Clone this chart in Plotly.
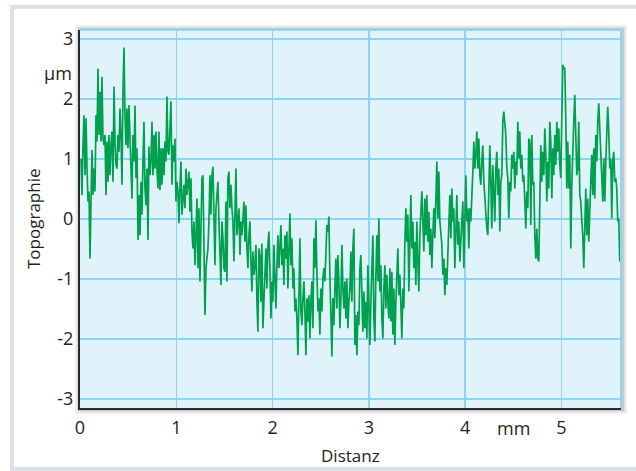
import numpy as np
import plotly.graph_objects as go

# ---------------- data ----------------
SAMPLE_SPACING_MM = 0.01038   # profilometer sampling interval
FIRST_SAMPLE_MM = 0.0104

height_seg1 = [1.00, 0.40, 1.23, 1.73, 0.73, 1.68, 0.84, 0.29, 0.46, -0.66,
               0.29, 1.15, 0.40, 0.84, 0.46, 1.73, 1.29, 2.51, 1.40, 2.12,
               1.29, 2.37, 1.34, 1.23, 1.40, 0.40, 1.29, 0.62, 1.40, 0.73,
               1.23, 1.46, 0.62, 2.21, 1.29, 0.90, 0.84, 1.40, 1.12, 1.84,
               1.40, 0.57, 2.12, 2.86, 1.73, 1.23, 1.84, 1.18, 1.90, 1.23,
               0.96, 0.34, 1.40, 0.96, 1.89, 0.68, 1.18, -0.35, 0.40, -0.27,
               0.62, 0.07, 0.96, 1.62, 0.51, 0.23, 0.84, -0.35, 1.21, 0.73,
               0.96, 1.62, 0.73, 1.40, 0.84, 1.46, 0.84, 0.51, 1.46, 0.48,
               1.18, 0.57, 1.18, 0.73, 1.29, 0.96, 2.04, 1.12, 1.07]

height_seg2 = [1.46, 1.96, 0.57, 1.23, 0.96, 1.34, 0.29, 0.62, 0.46, -0.07,
               0.51, 0.96, 0.07, 0.46, 0.57, 0.18, 0.84, 0.40, 0.62, 0.79,
               0.12, 0.68, -0.21, -0.49, -0.04, -0.77, -0.27, 0.34, -0.82, 0.18,
               -1.04, -0.27, 0.68, 0.73, -0.38, -1.60, -0.82, -0.60, -0.49, -0.04,
               0.73, 0.07, 0.73, 0.87, -0.04, -0.77, 0.18, 0.34, 0.62, -0.04,
               -0.49, -1.10, -0.04, -0.32, -0.82, -0.88, 0.29, -1.04, 0.68, 0.79,
               0.18, 0.57, 0.18, -0.04, -0.71, 0.40, 0.84, -0.27, 0.07, 0.18,
               -0.60, -0.04, -0.27, 0.07, 0.29, -0.38, 0.23, -0.49, -0.82, -0.27,
               -0.04, -0.71, -1.21, -0.54, -0.93, -0.77, -0.43, -1.38, -1.88, -0.49]

height_seg3 = [-0.60, -1.38, -0.41, -1.82, -1.16, -0.93, -0.49, -1.16, -0.43, -0.21,
               -0.82, -1.66, -1.04, -1.38, -0.43, -1.04, -1.49, -0.77, -0.27, -0.82,
               -0.38, -0.10, -0.77, -0.49, -1.10, -0.27, -0.66, -0.21, -1.16, -0.38,
               0.09, -0.77, -0.32, -1.16, -0.82, -1.54, -1.32, -1.66, -2.27, -1.32,
               -0.32, -1.54, -1.77, -1.32, -1.04, -1.54, -2.27, -1.32, -1.71, -1.27,
               -1.99, -1.38, -1.04, -1.82, -0.32, -0.82, -0.02, -0.88, -1.54, -1.32,
               -1.93, -1.16, -1.54, -0.99, -0.82, -1.04, -0.38, -0.10, -0.21, 0.04,
               -0.93, -1.82, -2.29, -1.32, -1.77, -1.16, -0.66, -1.49, -0.60, -1.04,
               -1.82, -1.32, -0.43, -1.16, -1.49, -1.04, -1.66, -0.99, -1.82, -1.38]

height_seg4 = [-1.16, -0.54, -1.38, -0.49, -0.16, -2.10, -1.60, -2.27, -1.54, -1.77,
               -0.82, -0.60, -1.38, -1.88, -1.21, -1.82, -1.38, -1.99, -0.77, -1.49,
               -2.10, -1.38, -0.77, -0.27, -1.66, -2.04, -0.93, -0.27, -1.04, 0.01,
               -1.21, -0.77, -1.66, -1.99, -1.16, -0.77, -1.49, -0.93, -1.38, -1.66,
               -0.82, -1.71, -0.88, -1.93, -1.16, -2.10, -1.38, -0.82, -0.49, -1.27,
               -0.93, -1.43, -1.99, -1.16, -1.49, -0.38, 0.18, -0.38, 0.07, -1.21,
               -0.32, 0.40, -0.49, -0.04, -0.82, -0.38, -1.10, -0.04, -0.71, -1.21,
               -0.27, 0.18, 0.46, -0.04, -0.54, 0.34, -0.27, 0.40, -0.38, 0.12,
               -0.60, -0.16, -0.82, -0.27, 0.18, -0.32, 0.29, 0.96, 0.01, 0.79]

height_seg5 = [-0.04, -0.27, -0.43, -0.93, -0.66, -1.27, -0.82, -1.10, -0.49, 0.07,
               0.40, -0.32, 0.51, -0.04, 0.18, -0.82, -0.04, 0.40, -0.43, -0.04,
               -0.71, -0.27, 0.18, 0.29, -0.82, -0.04, 0.73, -0.04, 0.18, -0.49,
               0.18, -0.04, 0.62, 0.79, 1.29, 0.84, 1.07, 1.46, 0.84, 1.34,
               0.73, 0.57, 0.96, 1.23, 0.62, 0.34, 0.23, -0.16, -0.27, 0.57,
               1.23, 0.62, -0.16, 0.90, 0.40, -0.04, 0.84, 1.12, 0.40, 0.84,
               -0.21, 0.62, 0.73, 1.62, 1.79, 1.62, 1.40, 0.84, 0.68, 0.01,
               0.62, 0.46, 1.07, 0.84, 1.12, 0.51, 0.96, 0.73, 1.62, 1.01,
               1.46, 0.84, 1.07, 0.62, 0.73, 0.29, -0.16, 0.46, 0.18, 1.34]

height_seg6 = [1.29, -0.10, 1.40, 0.57, 0.62, -0.27, -0.66, -0.16, -0.66, -0.71,
               0.46, 1.23, 0.62, 1.12, 0.73, 1.51, 1.07, 0.29, 0.96, 0.51,
               1.62, 1.29, 0.34, 1.18, 0.73, 1.40, 0.90, 1.62, 1.12, 1.51,
               0.90, 0.68, 1.68, 2.57, 2.51, 2.51, 1.68, 0.51, 1.29, 0.51,
               1.07, -0.49, 0.57, 1.40, 1.62, 2.07, 1.34, 0.73, 0.84, 1.62,
               0.40, 0.29, -0.04, -0.27, -0.82, -0.04, 0.51, -0.27, 0.34, -0.38,
               0.40, 0.62, 1.07, 0.40, 1.18, 0.34, 1.40, 0.96, 1.62, 1.93,
               1.51, 1.07, 0.51, 0.29, 1.01, 0.29, 0.96, 1.40, 1.87, 1.46,
               0.84, 1.01, 0.01, 0.96, 1.12, 0.62, 0.68, 0.51, -0.04, 0.01,
               -0.71]

height_um = (height_seg1 + height_seg2 + height_seg3 +
             height_seg4 + height_seg5 + height_seg6)
distance_mm = FIRST_SAMPLE_MM + SAMPLE_SPACING_MM * np.arange(len(height_um))

x_tick_vals = [0, 1, 2, 3, 4, 5]
x_tick_text = ["0", "1", "2", "3", "4", "5"]
y_tick_vals = [-3, -2, -1, 0, 1, 2, 3]
y_tick_text = ["-3", "-2", "-1", "0", "1", "2", "3"]
x_unit, x_unit_pos = "mm", 4.5
y_unit, y_unit_pos = "µm", 2.43
x_title = "Distanz"
y_title = "Topographie"

# ---------------- styling / layout ----------------
W, H = 636, 471
ML, MR, MT, MB = 80, 15, 30, 63
PW, PH = W - ML - MR, H - MT - MB
FONT = "Open Sans"
TXT = "#231f20"
GRID = "#8dd6f3"
BG = "#e1f3fa"
GREEN = "#00a14e"
TICK_SIZE = 18
LABEL_SIZE = 17


def px_x(p):
    return (p - ML) / PW


def px_y(p):
    return (H - MB - p) / PH


shapes = []
# outer light-grey frame
shapes.append(dict(type="rect", xref="paper", yref="paper", layer="below",
                   x0=px_x(12), x1=px_x(W + 10), y0=px_y(469), y1=px_y(7),
                   line=dict(color="#dce2e8", width=4), fillcolor="rgba(0,0,0,0)"))
# soft shadow around plot area
for d, a in [(5, 0.05), (3.5, 0.07), (2, 0.10)]:
    shapes.append(dict(type="rect", xref="paper", yref="paper", layer="below",
                       x0=px_x(ML - d), x1=px_x(ML + PW + d + 1),
                       y0=px_y(MT + PH + d + 1), y1=px_y(MT - d),
                       line=dict(width=0), fillcolor=f"rgba(0,0,0,{a})"))
# plot background
shapes.append(dict(type="rect", xref="paper", yref="paper", layer="below",
                   x0=0, x1=1, y0=0, y1=1, line=dict(width=0), fillcolor=BG))
# top and right light-blue border
shapes.append(dict(type="line", xref="paper", yref="paper", x0=0, x1=1, y0=1, y1=1,
                   line=dict(color=GRID, width=2)))
shapes.append(dict(type="line", xref="paper", yref="paper", x0=1, x1=1, y0=0, y1=1,
                   line=dict(color=GRID, width=2)))

fig = go.Figure()
fig.add_trace(go.Scatter(x=distance_mm, y=height_um, mode="lines",
                         line=dict(color=GREEN, width=1.7), hoverinfo="skip",
                         showlegend=False))

annotations = [
    dict(text=x_unit, x=x_unit_pos, xref="x", y=px_y(427.5), yref="paper",
         showarrow=False, xanchor="center", yanchor="middle",
         font=dict(family=FONT, size=TICK_SIZE, color=TXT)),
    dict(text=y_unit, x=px_x(74), xref="paper", y=y_unit_pos, yref="y",
         showarrow=False, xanchor="right", yanchor="middle",
         font=dict(family=FONT, size=TICK_SIZE, color=TXT)),
    dict(text=x_title, x=0.5, xref="paper", y=px_y(455), yref="paper",
         showarrow=False, xanchor="center", yanchor="middle",
         font=dict(family=FONT, size=LABEL_SIZE, color=TXT)),
    dict(text=y_title, x=px_x(33), xref="paper", y=0.5, yref="paper",
         showarrow=False, xanchor="center", yanchor="middle", textangle=-90,
         font=dict(family=FONT, size=LABEL_SIZE, color=TXT)),
]

fig.update_layout(
    width=W, height=H,
    margin=dict(l=ML, r=MR, t=MT, b=MB, pad=0),
    paper_bgcolor="white",
    plot_bgcolor="rgba(0,0,0,0)",
    font=dict(family=FONT, size=TICK_SIZE, color=TXT),
    shapes=shapes,
    annotations=annotations,
    xaxis=dict(range=[0, 5.618], tickvals=x_tick_vals, ticktext=x_tick_text,
               showgrid=True, gridcolor=GRID, gridwidth=1.5, zeroline=False,
               showline=True, linecolor="#2a2a2a", linewidth=2, ticks="",
               tickfont=dict(size=TICK_SIZE),
               ticklabelstandoff=2, fixedrange=True),
    yaxis=dict(range=[-3.15, 3.15], tickvals=y_tick_vals, ticktext=y_tick_text,
               showgrid=True, gridcolor=GRID, gridwidth=1.5, zeroline=False,
               showline=True, linecolor="#2a2a2a", linewidth=2, ticks="",
               tickfont=dict(size=TICK_SIZE),
               ticklabelstandoff=1, fixedrange=True),
)

fig.write_html(
    "out.html",
    config={"displayModeBar": False, "staticPlot": True},
    post_script="document.body.style.margin='0';"
                "document.body.style.overflow='hidden';",
)
